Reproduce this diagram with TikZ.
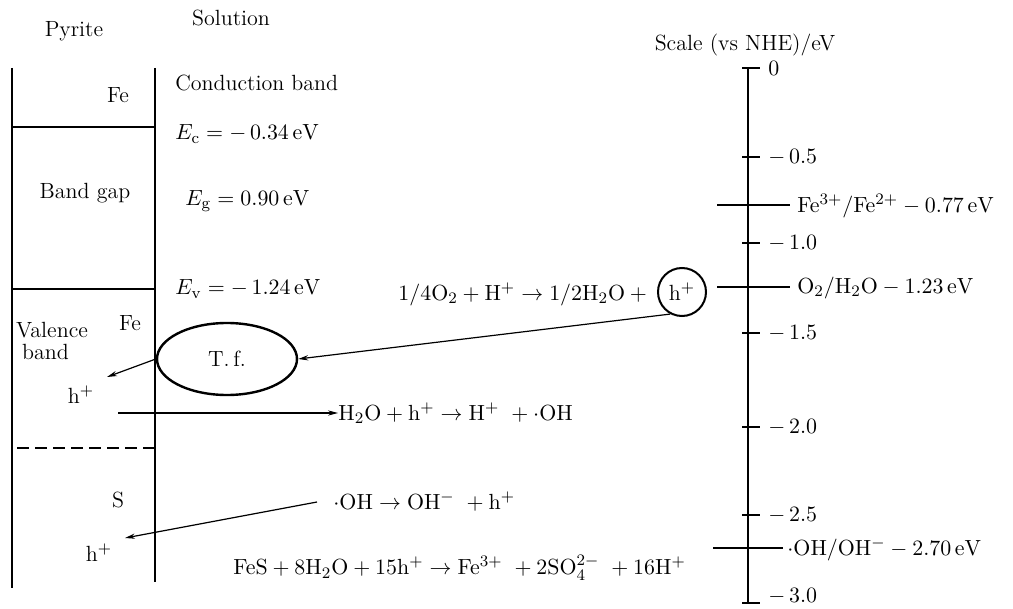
\documentclass[tikz,border=0pt]{standalone}
\usetikzlibrary{shapes.geometric,arrows.meta}
\begin{document}
\begin{tikzpicture}[x=0.5pt,y=-0.5pt,
  txt/.style={font=\fontsize{11}{13}\selectfont, inner sep=0pt},
  frame/.style={line width=1.4pt},
  arr/.style={line width=0.6pt, -{Stealth[length=5pt,width=2.6pt]}},
  tick/.style={line width=1pt},
  lbl/.style={txt, anchor=west}]
\useasboundingbox (0,0) rectangle (1013,609);
% titles
\node[txt] (pyrite) at (74,31) {Pyrite};
\node[txt] (solution) at (231,18) {Solution};
\node[txt] (scaletitle) at (745,45) {Scale (vs NHE)/eV};
% pyrite block
\draw[frame] (12,68) -- (12,588);
\draw[frame] (155,68) -- (155,582);
\draw[frame] (12,127) -- (155,127);
\draw[frame] (12,289) -- (155,289);
\draw[line width=0.8pt, dash pattern=on 6pt off 3pt] (17,448) -- (155,448);
\node[txt] (fe1) at (118,95) {Fe};
\node[txt] (bandgap) at (85,193) {Band gap};
\node[txt, align=left] (valence) at (52,341) {Valence\\[-2pt]\hspace*{3pt}band};
\node[txt] (fe2) at (130,323) {Fe};
\node[txt] (h1) at (81,395) {h$^{+}$};
\node[txt] (s) at (118,500) {S};
\node[txt] (h2) at (99,553) {h$^{+}$};
% solution texts
\node[lbl] (cb) at (175,83) {Conduction band};
\node[lbl] (ec) at (175,134) {$E_{\mathrm{c}}=-\,0.34\,\mathrm{eV}$};
\node[lbl] (eg) at (185,201) {$E_{\mathrm{g}}=0.90\,\mathrm{eV}$};
\node[lbl] (ev) at (175,289) {$E_{\mathrm{v}}=-\,1.24\,\mathrm{eV}$};
\node[lbl] (o2eq) at (398,294) {$1/4\mathrm{O_2}+\mathrm{H^+}\rightarrow 1/2\mathrm{H_2O}+{}$};
\node[draw, circle, line width=1pt, minimum size=24pt, txt] (hc) at (682,292) {h$^{+}$};
\node[draw, ellipse, line width=1.2pt, minimum width=70pt, minimum height=36pt, txt] (tf) at (227,359) {T.\,f.};
\node[lbl] (h2oeq) at (338,413) {$\mathrm{H_2O}+\mathrm{h^+}\rightarrow\mathrm{H^+}\ +\cdot\mathrm{OH}$};
\node[lbl] (oheq) at (333,502) {$\cdot\mathrm{OH}\rightarrow\mathrm{OH^-}\ +\mathrm{h^+}$};
\node[lbl] (fes) at (233,568) {$\mathrm{FeS}+8\mathrm{H_2O}+15\mathrm{h^+}\rightarrow\mathrm{Fe^{3+}}\ +2\mathrm{SO_4^{2-}}\ +16\mathrm{H^+}$};
% arrows
\coordinate (h1tip) at (107,377);
\coordinate (hstart) at (118,413);
\coordinate (h2tip) at (125,538);
\draw[arr] (hc.242) -- (tf.east);
\draw[arr] (tf.west) -- (h1tip);
\draw[arr] (hstart) -- (h2oeq.west);
\draw[arr] ([xshift=-8pt]oheq.west) -- (h2tip);
% scale
\draw[line width=1.4pt] (748,68) -- (748,603);
\foreach \y/\ly/\t in {68/68/0,157/157/{-\,0.5},243/243/{-\,1.0},333/333/{-\,1.5},427/427/{-\,2.0},515/515/{-\,2.5},603/596/{-\,3.0}}{
  \draw[tick] (742,\y) -- (760,\y);
  \node[lbl] at (768,\ly) {$\t$};
}
\draw[tick] (717,205) -- (790,205);
\node[lbl] (fe32) at (797,206) {$\mathrm{Fe^{3+}/Fe^{2+}}-0.77\,\mathrm{eV}$};
\draw[tick] (717,287) -- (790,287);
\node[lbl] (o2h2o) at (797,288) {$\mathrm{O_2/H_2O}-1.23\,\mathrm{eV}$};
\draw[tick] (713,548) -- (783,548);
\node[lbl] (ohoh) at (787,549) {$\cdot\mathrm{OH/OH^-}-2.70\,\mathrm{eV}$};
\end{tikzpicture}
\end{document}
